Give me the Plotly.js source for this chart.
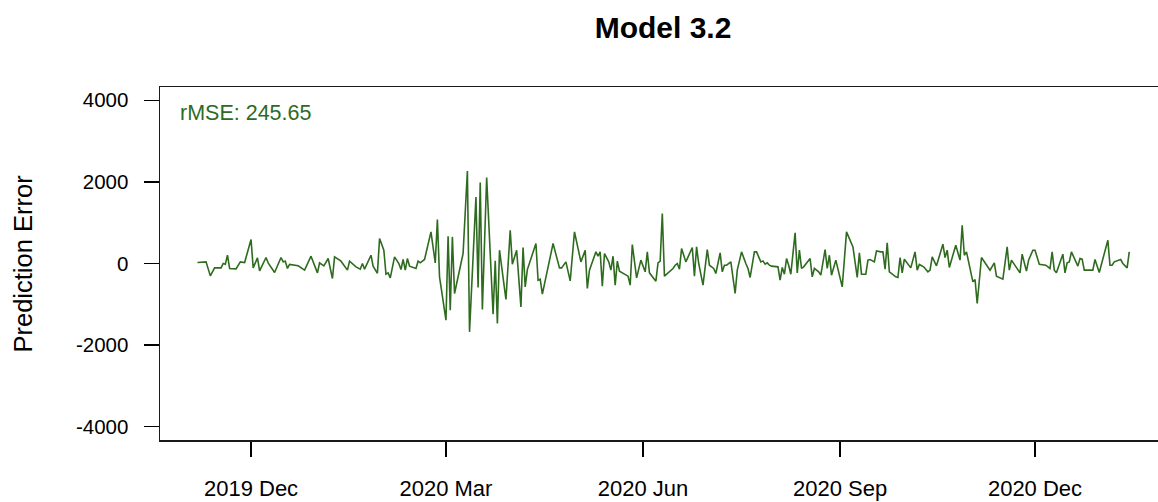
<!DOCTYPE html>
<html>
<head>
<meta charset="utf-8">
<script src="https://cdn.plot.ly/plotly-3.0.1.min.js"></script>
<style>
html,body{margin:0;padding:0;background:#fff;overflow:hidden;}
#chart{width:1158px;height:502px;}
</style>
</head>
<body>
<div id="chart"></div>
<script>
// ---- Data ----
const dates = [
"2019-11-06","2019-11-10","2019-11-12","2019-11-14","2019-11-17","2019-11-18","2019-11-19","2019-11-20","2019-11-21","2019-11-24",
"2019-11-26","2019-11-28","2019-12-01","2019-12-02","2019-12-04","2019-12-05","2019-12-08","2019-12-09","2019-12-12","2019-12-15",
"2019-12-16","2019-12-17","2019-12-18","2019-12-19","2019-12-23","2019-12-26","2019-12-29","2020-01-01","2020-01-02","2020-01-04",
"2020-01-06","2020-01-08","2020-01-09","2020-01-12","2020-01-15","2020-01-16","2020-01-19","2020-01-21","2020-01-22","2020-01-23",
"2020-01-26","2020-01-27","2020-01-29","2020-01-30","2020-02-01","2020-02-02","2020-02-03","2020-02-04","2020-02-06","2020-02-08",
"2020-02-09","2020-02-10","2020-02-11","2020-02-12","2020-02-13","2020-02-15","2020-02-16","2020-02-17","2020-02-18","2020-02-20",
"2020-02-23","2020-02-25","2020-02-26","2020-02-27","2020-03-01","2020-03-02","2020-03-03","2020-03-04","2020-03-05","2020-03-08",
"2020-03-09","2020-03-11","2020-03-12","2020-03-15","2020-03-16","2020-03-17","2020-03-18","2020-03-20","2020-03-21","2020-03-23",
"2020-03-24","2020-03-25","2020-03-26","2020-03-29","2020-03-31","2020-04-01","2020-04-03","2020-04-05","2020-04-06","2020-04-07",
"2020-04-08","2020-04-12","2020-04-13","2020-04-14","2020-04-15","2020-04-20","2020-04-23","2020-04-24","2020-04-26","2020-04-28",
"2020-04-30","2020-05-03","2020-05-05","2020-05-06","2020-05-07","2020-05-10","2020-05-11","2020-05-12","2020-05-13","2020-05-14",
"2020-05-16","2020-05-17","2020-05-18","2020-05-19","2020-05-20","2020-05-21","2020-05-25","2020-05-26","2020-05-27","2020-05-29",
"2020-05-31","2020-06-02","2020-06-03","2020-06-04","2020-06-07","2020-06-08","2020-06-09","2020-06-10","2020-06-11","2020-06-14",
"2020-06-15","2020-06-16","2020-06-17","2020-06-18","2020-06-19","2020-06-21","2020-06-24","2020-06-25","2020-06-26","2020-06-27",
"2020-06-29","2020-07-01","2020-07-02","2020-07-04","2020-07-05","2020-07-07","2020-07-08","2020-07-09","2020-07-10","2020-07-12",
"2020-07-14","2020-07-15","2020-07-17","2020-07-19","2020-07-20","2020-07-21","2020-07-23","2020-07-24","2020-07-26","2020-07-27",
"2020-07-28","2020-07-29","2020-07-30","2020-07-31","2020-08-02","2020-08-03","2020-08-04","2020-08-05","2020-08-06","2020-08-07",
"2020-08-08","2020-08-09","2020-08-11","2020-08-12","2020-08-13","2020-08-14","2020-08-15","2020-08-18","2020-08-19","2020-08-20",
"2020-08-22","2020-08-23","2020-08-25","2020-08-26","2020-08-27","2020-08-28","2020-08-30","2020-09-02","2020-09-04","2020-09-07",
"2020-09-09","2020-09-10","2020-09-11","2020-09-13","2020-09-14","2020-09-15","2020-09-17","2020-09-18","2020-09-20","2020-09-21",
"2020-09-22","2020-09-23","2020-09-24","2020-09-27","2020-09-28","2020-09-29","2020-09-30","2020-10-01","2020-10-04","2020-10-06",
"2020-10-07","2020-10-08","2020-10-10","2020-10-12","2020-10-13","2020-10-14","2020-10-16","2020-10-19","2020-10-20","2020-10-21",
"2020-10-22","2020-10-25","2020-10-27","2020-10-28","2020-10-29","2020-10-30","2020-11-02","2020-11-03","2020-11-04","2020-11-06",
"2020-11-10","2020-11-12","2020-11-13","2020-11-16","2020-11-18","2020-11-19","2020-11-20","2020-11-22","2020-11-24","2020-11-25",
"2020-11-27","2020-11-28","2020-11-30","2020-12-01","2020-12-03","2020-12-06","2020-12-08","2020-12-09","2020-12-10","2020-12-11",
"2020-12-14","2020-12-15","2020-12-16","2020-12-17","2020-12-18","2020-12-21","2020-12-22","2020-12-23","2020-12-24","2020-12-25",
"2020-12-28","2020-12-29","2020-12-31","2021-01-04","2021-01-05","2021-01-06","2021-01-07","2021-01-10","2021-01-11","2021-01-13",
"2021-01-14"
];
const predictionError = [
24,40,-303,-107,-107,0,-17,203,-122,-131,
40,24,587,-107,138,-180,147,16,-220,147,
40,57,-122,-24,-57,-163,179,-229,16,-57,
122,-367,163,57,-163,57,-82,-139,0,-139,
203,-65,-240,612,326,-262,-229,-351,163,0,
-147,98,-163,122,-65,-98,-122,57,16,98,
774,16,1078,-327,-1388,669,-1143,652,-735,0,
245,2268,-1675,1631,-588,1984,-1127,2106,1102,-1242,
64,-1469,326,-882,816,-17,326,-1063,392,-573,
-150,490,-409,-384,-752,490,-107,-107,40,-425,
774,40,326,-612,-163,285,179,285,-556,245,
40,-163,179,-531,57,-188,-310,-531,465,-351,
82,-204,285,-229,-433,16,57,1225,-310,-163,
-122,-42,0,-139,367,40,392,-310,408,0,
-531,343,-42,-122,-245,261,-204,-42,-42,40,
-735,-163,285,0,-122,-343,285,285,40,64,
-17,16,-42,-65,-82,-82,-409,-98,-262,122,
-42,-262,750,-229,326,-122,-82,122,-327,-122,
-204,-286,343,-122,203,-286,82,-573,774,408,
-343,261,-262,-262,82,98,40,310,285,285,
-139,506,-204,-327,-343,147,-229,106,-107,285,
-163,-24,-82,-204,-163,163,-57,473,147,326,
-98,449,82,938,203,285,-449,-392,-980,147,
-163,16,-310,-384,408,-163,82,-82,-229,228,
-188,82,326,326,-17,-42,-122,285,-163,-229,
228,-229,16,40,285,-65,122,106,-163,-163,
-163,98,-220,571,-42,-42,40,98,0,-107,
285
];
const xTickVals = ["2019-12-01","2020-03-01","2020-06-01","2020-09-01","2020-12-01"];
const xTickText = ["2019 Dec","2020 Mar","2020 Jun","2020 Sep","2020 Dec"];
const yTickVals = [-4000,-2000,0,2000,4000];
const yTickText = ["-4000","-2000","0","2000","4000"];
const titleText = "Model 3.2";
const yTitleText = "Prediction Error";
const rmseText = "rMSE: 245.65";

const green = "#2e6b1f";
const font = "Liberation Sans, Arial, Helvetica, sans-serif";

const trace = {
  type: "scatter",
  mode: "lines",
  x: dates,
  y: predictionError,
  line: {color: green, width: 1.6},
  hoverinfo: "x+y"
};

const layout = {
  width: 1158,
  height: 502,
  margin: {l: 160, r: 0, t: 87, b: 62, pad: 0},
  paper_bgcolor: "#fff",
  plot_bgcolor: "#fff",
  showlegend: false,
  font: {family: font, color: "#000"},
  title: {
    text: "<b>" + titleText + "</b>",
    font: {family: font, size: 30, color: "#000"},
    xref: "container", x: 663/1158, xanchor: "center",
    yref: "container", y: 1 - 27/502, yanchor: "middle"
  },
  xaxis: {
    type: "date",
    range: ["2019-10-19 12:00", "2021-01-27 10:00"],
    tickmode: "array",
    tickvals: xTickVals,
    ticktext: xTickText,
    ticks: "outside",
    ticklen: 15,
    tickwidth: 1.3,
    tickcolor: "#000",
    ticklabelstandoff: 13,
    tickfont: {family: font, size: 22, color: "#000"},
    showgrid: false,
    zeroline: false,
    showline: true,
    mirror: true,
    linecolor: "#1a1a1a",
    linewidth: 1.5,
    fixedrange: true
  },
  yaxis: {
    range: [-4326, 4326],
    tickmode: "array",
    tickvals: yTickVals,
    ticktext: yTickText,
    ticks: "outside",
    ticklen: 15,
    tickwidth: 1.3,
    tickcolor: "#000",
    ticklabelstandoff: 11,
    tickfont: {family: font, size: 20.5, color: "#000"},
    showgrid: false,
    zeroline: false,
    showline: true,
    mirror: false,
    linecolor: "#1a1a1a",
    linewidth: 1.5,
    fixedrange: true
  },
  annotations: [
    {
      text: yTitleText,
      xref: "paper", yref: "paper",
      x: (22 - 160) / 998, y: 0.5,
      xanchor: "center", yanchor: "middle",
      textangle: -90,
      showarrow: false,
      font: {family: font, size: 25.5, color: "#000"}
    },
    {
      text: rmseText,
      xref: "paper", yref: "paper",
      x: (178 - 160) / 998, y: 1 - (113 - 87) / 353,
      xanchor: "left", yanchor: "middle",
      showarrow: false,
      font: {family: font, size: 21.5, color: green}
    }
  ]
};

Plotly.newPlot("chart", [trace], layout, {displayModeBar: false, staticPlot: true});
</script>
</body>
</html>
